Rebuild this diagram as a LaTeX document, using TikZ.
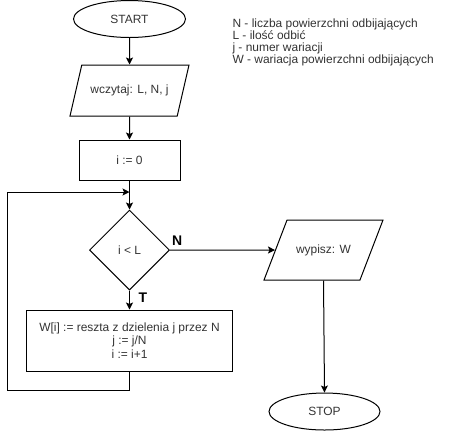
\documentclass[tikz,border=0pt]{standalone}
\usepackage{fontspec}
\setmainfont{Liberation Sans}
\usetikzlibrary{arrows.meta,shapes.geometric}
\definecolor{txtColor}{HTML}{333333}
\tikzset{
	block/.style={draw, line width=1bp, inner sep=2bp, text=txtColor,
		font=\fontsize{12}{13.5}\selectfont},
	term/.style={block, ellipse, minimum width=112bp, minimum height=37bp},
	io/.style={block, trapezium, trapezium stretches body, text height=9bp, text depth=3bp,
		inner ysep=#1bp, minimum width=119bp},
	proc/.style={block, rectangle, align=center},
	decide/.style={block, diamond, minimum width=80bp, minimum height=80bp},
	branch/.style={font=\fontsize{14}{16}\bfseries, inner sep=0}
}

\begin{document}
\begin{tikzpicture}[->,>={Stealth[length=7bp,width=7bp,inset=1.5bp]}, x=1bp, y=-1bp,
 line width=1bp]
\useasboundingbox (0,0) rectangle (453,431);
\node[term] (start) at (129.5, 19) {START};
\node[io=19.5, trapezium left angle=77, trapezium right angle=103] (read) at (129.5, 90.5) {wczytaj: L, N, j};
\node[proc, minimum width=101bp, minimum height=40bp] (init) at (129.5, 160) {i := 0};
\node[decide] (cond) at (129.5, 250) {i < L};
\node[io=24, trapezium left angle=69, trapezium right angle=111] (write) at (323.5, 250) {wypisz: W};
\node[proc, minimum width=205bp, minimum height=61bp] (body) at (129.5, 340.5) {W[i] := reszta z dzielenia j przez N\\ j := j/N\\ i := i+1};
\node[term, minimum width=111bp] (stop) at (324.5, 411.5) {STOP};

\node[anchor=north west, inner sep=0, align=left, text=txtColor,
 font=\fontsize{12}{12.2}\selectfont] (legend) at (232, 18)
 {N - liczba powierzchni odbijających\\ L - ilość odbić\\ j - numer wariacji\\ W - wariacja powierzchni odbijających};

\coordinate (join) at (129.5, 192);
\coordinate (corner) at (7, 390);

\draw (start) -- (read);
\draw (read) -- (init);
\draw[-] (init) -- (join);
\draw (join) -- (cond);
\draw (cond.east) -- node[branch, anchor=base west, pos=0, xshift=1.5bp, yshift=5bp] (no) {N} (write.west);
\draw (cond.south) -- node[branch, anchor=base west, pos=0.45, xshift=8.5bp, yshift=-3bp] (yes) {T} (body.north);
\draw (body.south) |- (corner) |- (join);
\draw (write.south) -- (stop.north);
\end{tikzpicture}
\end{document}
